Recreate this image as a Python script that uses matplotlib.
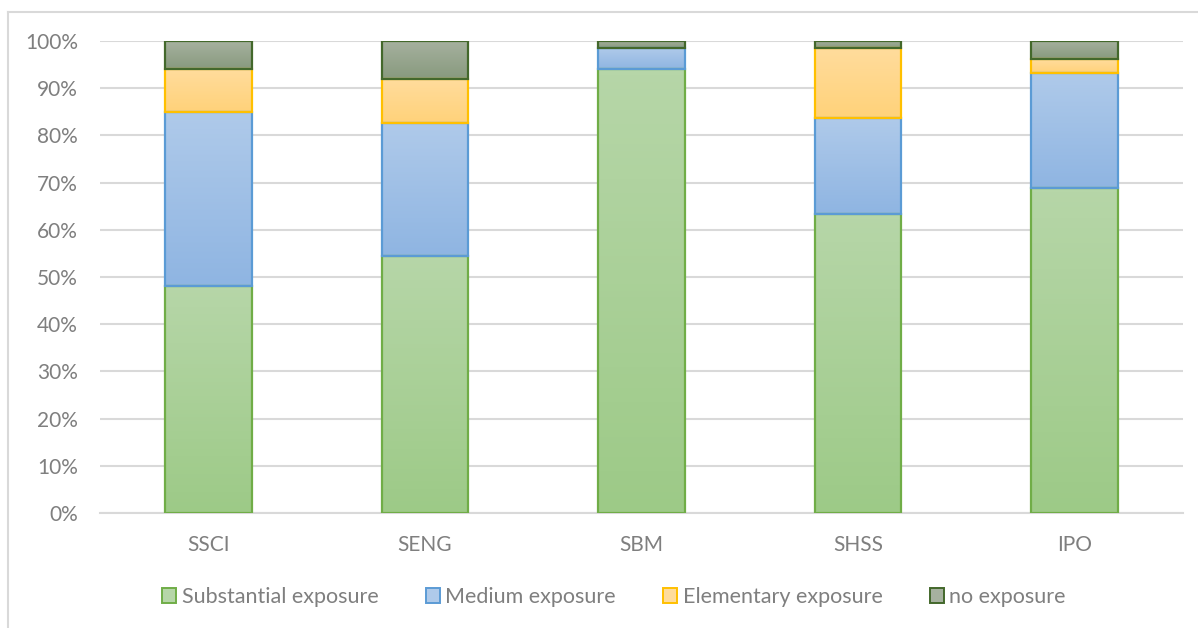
import numpy as np
import matplotlib
matplotlib.use("Agg")
import matplotlib.pyplot as plt
from matplotlib.colors import LinearSegmentedColormap
from matplotlib.lines import Line2D
from matplotlib.patches import Patch

plt.rcParams['font.family'] = ['Lato', 'DejaVu Sans']

# share of respondents (%) per school
schools = ['SSCI', 'SENG', 'SBM', 'SHSS', 'IPO']
substantial = [48.0, 54.4, 94.1, 63.3, 68.9]
medium = [37.0, 28.2, 4.4, 20.4, 24.3]
elementary = [9.1, 9.3, 0.0, 14.8, 2.9]
no_exposure = [5.9, 8.1, 1.5, 1.5, 3.9]

series = [
    ('Substantial exposure', substantial, '#b6d6a8', '#9dca87', '#70ad47'),
    ('Medium exposure', medium, '#afcaea', '#8fb5e2', '#5b9bd5'),
    ('Elementary exposure', elementary, '#ffdc9c', '#ffd27a', '#ffc000'),
    ('no exposure', no_exposure, '#a6b19f', '#889a7e', '#43682b'),
]

fig = plt.figure(figsize=(11.98, 6.28), dpi=100)
ax = fig.add_axes([100 / 1198, 1 - 513 / 628, 1083 / 1198, 472 / 628])

x = np.arange(len(schools))
width = 0.4
bottom = np.zeros(len(schools))
grad = np.linspace(0, 1, 64).reshape(-1, 1)

for name, vals, top_c, bot_c, edge in series:
    vals = np.array(vals) / 100
    cmap = LinearSegmentedColormap.from_list(name, [bot_c, top_c])
    bars = ax.bar(x, vals, width, bottom=bottom, color='none',
                  edgecolor=edge, linewidth=1.6, zorder=3)
    for b, v in zip(bars, vals):
        if v <= 0:
            b.set_visible(False)
            continue
        x0, y0 = b.get_x(), b.get_y()
        im = ax.imshow(grad, cmap=cmap, aspect='auto', origin='lower',
                       extent=[x0, x0 + width, y0, y0 + v], zorder=2)
        im.set_clip_path(b)
    bottom += vals

ax.set_xlim(-0.5, len(schools) - 0.5)
ax.set_ylim(0, 1)
ax.set_yticks(np.arange(0, 1.01, 0.1))
ax.set_yticklabels([f'{int(round(t * 100))}%' for t in np.arange(0, 1.01, 0.1)])
ax.set_xticks(x)
ax.set_xticklabels(schools)
ax.yaxis.grid(True, color='#d9d9d9', linewidth=1.5, zorder=0)
ax.set_axisbelow(True)
for s in ['top', 'right', 'left']:
    ax.spines[s].set_visible(False)
ax.spines['bottom'].set_color('#d9d9d9')
ax.spines['bottom'].set_linewidth(1.5)
ax.tick_params(length=0, labelsize=15, labelcolor='#7f7f7f')
ax.tick_params(axis='y', pad=16)
ax.tick_params(axis='x', pad=16)

handles = [Patch(facecolor=top_c, edgecolor=edge, linewidth=1.4, label=name)
           for name, vals, top_c, bot_c, edge in series]
leg = fig.legend(handles=handles, loc='center', bbox_to_anchor=(0.5125, 1 - 597 / 628),
                 ncol=4, frameon=False, fontsize=15.5, handlelength=0.65,
                 handleheight=0.75, handletextpad=0.25, columnspacing=2.2)
for t in leg.get_texts():
    t.set_color('#7f7f7f')

# chart area border
fig.add_artist(Line2D([7.5 / 1198, 7.5 / 1198], [0, 1 - 12 / 628],
                      transform=fig.transFigure, color='#d9d9d9', linewidth=1.5))
fig.add_artist(Line2D([7.5 / 1198, 1], [1 - 12 / 628, 1 - 12 / 628],
                      transform=fig.transFigure, color='#d9d9d9', linewidth=1.5))

fig.savefig('out.png', dpi=100)
